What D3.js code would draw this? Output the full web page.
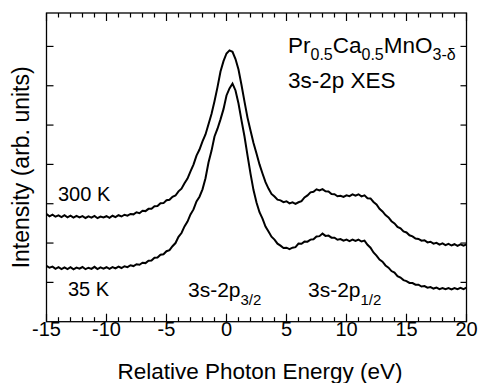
<!DOCTYPE html>
<html>
<head>
<meta charset="utf-8">
<script src="https://cdn.jsdelivr.net/npm/d3@7/dist/d3.min.js"></script>
<style>
  body { margin: 0; background: #fff; }
  text { font-family: "Liberation Sans", Arial, sans-serif; fill: #000; }
</style>
</head>
<body>
<div id="chart"></div>
<script>
// Mn 3s-2p XES of Pr0.5Ca0.5MnO3-d
// energy grid: -15 .. 20 eV in 0.25 eV steps
const energy = d3.range(141).map(i => -15 + i * 0.25);

const i300K = [
  109.6, 107.2, 108.9, 106.8, 108.1, 106.4, 108.3, 106.2, 107.9, 105.8,
  107.6, 106.0, 107.4, 105.5, 107.1, 105.9, 107.6, 105.3, 107.0, 106.1,
  107.3, 105.7, 107.8, 106.4, 108.3, 107.0, 108.8, 107.9, 109.6, 109.2,
  111.3, 110.4, 112.9, 112.5, 114.8, 114.9, 117.4, 117.6, 120.5, 120.6,
  123.6, 124.0, 127.1, 128.4, 132.6, 135.3, 140.8, 145.6, 153.0, 159.8,
  168.9, 175.1, 183.5, 190.4, 200.8, 211.2, 224.3, 238.6, 254.5, 265.0,
  272.8, 276.0, 274.5, 267.2, 256.5, 240.8, 223.9, 207.6, 194.5, 181.7,
  171.1, 160.0, 150.8, 141.9, 135.4, 130.0, 127.3, 124.1, 123.4, 121.6,
  122.5, 120.4, 121.4, 119.9, 121.5, 122.6, 126.4, 128.5, 131.6, 132.2,
  134.7, 133.5, 134.8, 132.6, 132.5, 129.9, 129.6, 127.6, 128.1, 126.9,
  128.6, 127.7, 129.5, 128.1, 129.6, 127.5, 128.5, 125.6, 125.4, 121.8,
  119.3, 114.9, 112.2, 108.4, 106.1, 102.2, 100.0, 96.4, 94.9, 91.8,
  90.8, 87.9, 86.8, 84.6, 84.2, 82.4, 82.8, 80.7, 81.3, 79.4,
  80.2, 78.4, 79.7, 77.9, 79.2, 77.5, 78.8, 77.2, 78.7, 77.3,
  78.6
];

const i35K = [
  56.8, 54.9, 56.0, 53.8, 55.4, 53.5, 55.3, 53.6, 55.5, 53.2,
  55.0, 53.9, 55.6, 53.4, 54.9, 53.7, 55.8, 53.5, 55.2, 54.0,
  55.4, 53.8, 55.6, 54.2, 56.0, 54.6, 56.4, 55.5, 57.4, 56.6,
  58.5, 57.9, 60.0, 59.6, 62.0, 62.2, 65.0, 65.3, 68.1, 68.6,
  71.7, 72.8, 76.8, 80.0, 86.3, 90.2, 96.9, 101.8, 109.1, 114.2,
  122.4, 127.1, 134.6, 146.0, 161.9, 173.8, 188.4, 196.3, 205.8, 216.2,
  230.1, 237.3, 242.2, 235.2, 221.9, 204.8, 188.4, 169.1, 150.7, 133.9,
  121.2, 111.4, 104.9, 96.8, 91.7, 86.5, 83.5, 79.4, 77.4, 75.0,
  75.3, 73.9, 75.3, 75.8, 79.4, 79.3, 81.5, 81.4, 83.5, 83.8,
  86.6, 87.0, 89.6, 87.3, 87.6, 85.5, 85.5, 83.4, 84.0, 82.4,
  83.5, 82.0, 83.5, 82.1, 83.5, 81.6, 82.5, 78.3, 75.3, 70.4,
  67.2, 63.2, 61.1, 57.2, 55.0, 51.5, 49.9, 46.4, 44.9, 42.3,
  41.3, 39.4, 39.3, 37.6, 37.7, 35.8, 36.2, 34.6, 35.2, 33.7,
  34.7, 33.1, 34.2, 33.0, 34.2, 32.9, 34.2, 33.1, 34.4, 33.0,
  34.6
];

const xMajorTicks = [-15, -10, -5, 0, 5, 10, 15, 20];
const xMinorTicks = d3.range(-15, 21, 1);
const yTicks = [40, 80, 120, 160, 200, 240, 280];

const width = 480, height = 383;
const margin = { left: 46.5, right: 13.5, top: 13, bottom: 61.3 };

const svg = d3.select('#chart')
  .append('svg')
  .attr('width', width)
  .attr('height', height);

const x = d3.scaleLinear().domain([-15, 20]).range([margin.left, width - margin.right]);
const y = d3.scaleLinear().domain([0, 314]).range([height - margin.bottom, margin.top]);

const x0 = x.range()[0], x1 = x.range()[1];
const y0 = y.range()[0], y1 = y.range()[1];

// curves
const line = d3.line()
  .x((d, i) => x(energy[i]))
  .y(d => y(d));

[i300K, i35K].forEach(series => {
  svg.append('path')
    .datum(series)
    .attr('d', line)
    .attr('fill', 'none')
    .attr('stroke', '#000')
    .attr('stroke-width', 2)
    .attr('stroke-linejoin', 'miter');
});

// ticks (inward, all four sides)
const ticks = svg.append('g').attr('stroke', '#000').attr('stroke-width', 1.2);
xMinorTicks.forEach(v => {
  const len = xMajorTicks.includes(v) ? 8 : 4.5;
  ticks.append('line').attr('x1', x(v)).attr('x2', x(v)).attr('y1', y0).attr('y2', y0 - len);
  ticks.append('line').attr('x1', x(v)).attr('x2', x(v)).attr('y1', y1).attr('y2', y1 + len);
});
yTicks.forEach(v => {
  ticks.append('line').attr('x1', x0).attr('x2', x0 + 7).attr('y1', y(v)).attr('y2', y(v));
  ticks.append('line').attr('x1', x1).attr('x2', x1 - 6).attr('y1', y(v)).attr('y2', y(v));
});

// frame
svg.append('rect')
  .attr('x', x0).attr('y', y1)
  .attr('width', x1 - x0).attr('height', y0 - y1)
  .attr('fill', 'none')
  .attr('stroke', '#000')
  .attr('stroke-width', 1.3);

// tick labels
svg.append('g').selectAll('text')
  .data(xMajorTicks)
  .join('text')
  .attr('x', d => x(d))
  .attr('y', 336)
  .attr('text-anchor', 'middle')
  .attr('font-size', 20)
  .text(d => d);

// axis titles
svg.append('text')
  .attr('x', 260).attr('y', 378.5)
  .attr('text-anchor', 'middle')
  .attr('font-size', 22.5)
  .text('Relative Photon Energy (eV)');

svg.append('text')
  .attr('transform', `translate(28.5, ${(y0 + y1) / 2}) rotate(-90)`)
  .attr('text-anchor', 'middle')
  .attr('font-size', 23)
  .text('Intensity (arb. units)');

// labels
function subLabel(px, py, parts, size, subSize, shift) {
  const t = svg.append('text').attr('x', px).attr('y', py).attr('font-size', size);
  parts.forEach(p => {
    const s = t.append('tspan').text(p[0]);
    if (p[1]) s.attr('font-size', subSize).attr('dy', shift);
    else s.attr('dy', p[2] ? -shift : 0);
  });
}

svg.append('text').attr('x', 58).attr('y', 200.5).attr('font-size', 20).text('300 K');
svg.append('text').attr('x', 68).attr('y', 296).attr('font-size', 20).text('35 K');

subLabel(188, 296.5, [['3s-2p'], ['3/2', true]], 21, 15, 8);
subLabel(308, 296.5, [['3s-2p'], ['1/2', true]], 21, 15, 8);

subLabel(288, 53.3, [['Pr'], ['0.5', true], ['Ca', false, true], ['0.5', true], ['MnO', false, true], ['3-\u03b4', true]], 22.5, 16, 7);
svg.append('text').attr('x', 288).attr('y', 88.3).attr('font-size', 22.5).text('3s-2p XES');
</script>
</body>
</html>
